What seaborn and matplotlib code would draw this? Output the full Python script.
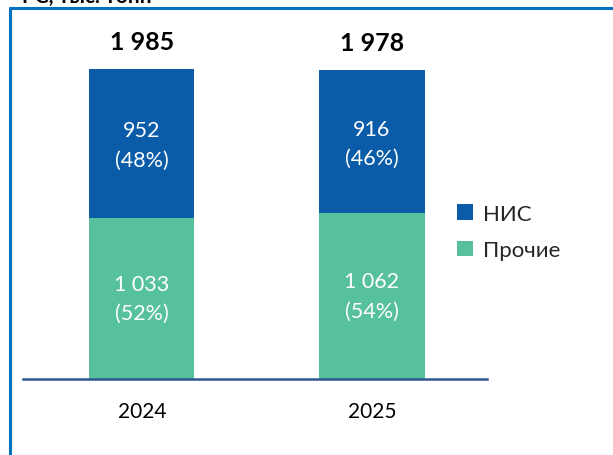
import matplotlib
matplotlib.use("Agg")
import matplotlib.pyplot as plt
import seaborn as sns
import pandas as pd
from matplotlib.patches import Patch
from matplotlib.lines import Line2D

years = ["2024", "2025"]
nis = [952, 916]
other = [1033, 1062]
totals = [1985, 1978]
nis_pct = [48, 46]
other_pct = [52, 54]
series_names = ["НИС", "Прочие"]
title_text = "РС, тыс. тонн"

C_NIS = "#0A5BA8"
C_OTHER = "#57C09C"
C_FRAME = "#0070C0"
C_AXIS = "#2F5597"

sns.set_theme(style="white")
plt.rcParams['font.family'] = ['Lato', 'DejaVu Sans']

df = pd.DataFrame({"year": years, "nis": nis, "other": other, "total": totals})

fig = plt.figure(figsize=(6.13, 4.56), dpi=100)
ax = fig.add_axes([23/613, 1 - 380/456, (487-23)/613, (380-20)/456])

sns.barplot(data=df, x="year", y="total", color=C_NIS, width=0.457,
            saturation=1, ax=ax, linewidth=0)
sns.barplot(data=df, x="year", y="other", color=C_OTHER, width=0.457,
            saturation=1, ax=ax, linewidth=0)

ax.set_xlim(-0.517, 1.5)
ax.set_ylim(0, 360/0.156)

for i in range(len(years)):
    ax.text(i, other[i] / 2, f"{other[i]:,}".replace(",", " ") + f"\n({other_pct[i]}%)",
            ha="center", va="center", color="white", fontsize=15.5, linespacing=1.6)
    ax.text(i, other[i] + nis[i] / 2 - 10, f"{nis[i]:,}".replace(",", " ") + f"\n({nis_pct[i]}%)",
            ha="center", va="center", color="white", fontsize=15.5, linespacing=1.6)
    ax.text(i, totals[i] + 180, f"{totals[i]:,}".replace(",", " "),
            ha="center", va="center", color="black", fontsize=18, fontweight="bold")

for s in ["top", "right", "left"]:
    ax.spines[s].set_visible(False)
ax.spines["bottom"].set_color(C_AXIS)
ax.spines["bottom"].set_linewidth(1.8)
ax.set_yticks([])
ax.set_xlabel("")
ax.set_ylabel("")
ax.tick_params(axis="x", length=0, pad=16, labelsize=15, labelcolor="black")

handles = [Patch(facecolor=C_NIS, edgecolor="none"), Patch(facecolor=C_OTHER, edgecolor="none")]
fig.legend(handles, series_names, loc="center left", bbox_to_anchor=(437/613, 1 - 233/456),
           frameon=False, fontsize=16, handlelength=0.7, handleheight=0.7,
           handletextpad=0.45, labelspacing=0.75)

# frame lines
fig.add_artist(Line2D([10/613, 10/613], [0, 1 - 9/456], color=C_FRAME, linewidth=2.2,
                      transform=fig.transFigure))
fig.add_artist(Line2D([10/613, 1], [1 - 9/456, 1 - 9/456], color=C_FRAME, linewidth=2.2,
                      transform=fig.transFigure))
fig.text(22/613, 1 - 3/456, title_text, ha="left", va="baseline", fontsize=15,
         fontweight="bold", color="black")

fig.savefig("out.png", dpi=100)
